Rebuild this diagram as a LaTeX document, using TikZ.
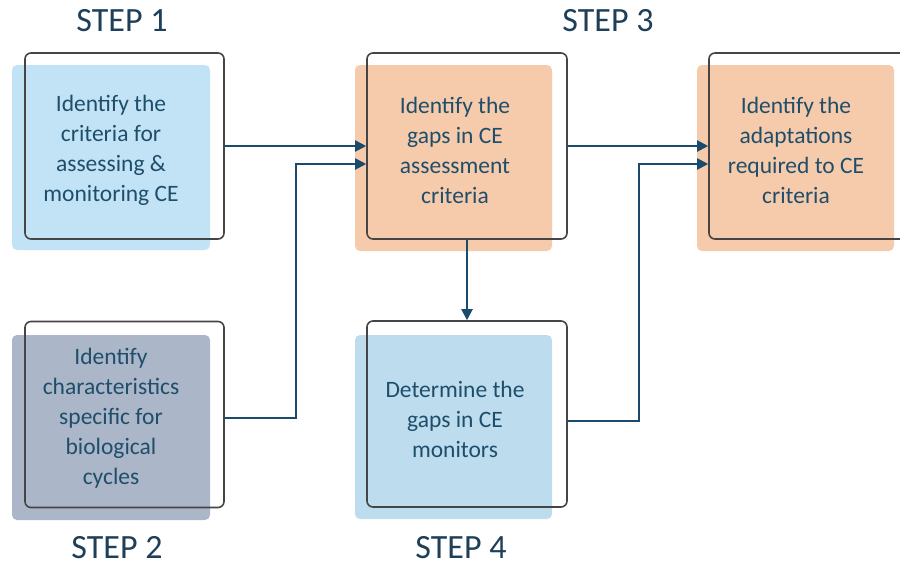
\documentclass[tikz,border=0pt]{standalone}
\usepackage{fontspec}
\setmainfont{Carlito}
\usetikzlibrary{arrows.meta}
\definecolor{txt}{HTML}{1F4E6B}
\definecolor{steptxt}{HTML}{1F3F58}
\definecolor{lnc}{HTML}{1B4B6C}
\definecolor{outl}{HTML}{454545}
\definecolor{cblue}{HTML}{C2E3F6}
\definecolor{corange}{HTML}{F6CBAB}
\definecolor{cgray}{HTML}{ABB6C8}
\definecolor{cblue2}{HTML}{BDDCEE}
\tikzset{
  fillbox/.style={draw=none, rounded corners=5pt, inner sep=0pt},
  outbox/.style={draw=outl, line width=1.6pt, rounded corners=6pt, inner sep=0pt, minimum width=199pt, minimum height=186pt},
  boxtext/.style={text=txt, align=center, font=\fontsize{23.5}{30}\selectfont, inner sep=0pt},
  steplabel/.style={text=steptxt, font=\fontsize{34}{38}\selectfont, inner sep=0pt, anchor=base},
  arr/.style={draw=lnc, line width=2pt, -{Triangle[length=11pt,width=11pt]}}
}
\begin{document}
\begin{tikzpicture}[x=1pt,y=-1pt]
\useasboundingbox (0,0) rectangle (900,566);
\clip (0,0) rectangle (900,566);
% fills
\node[fillbox, fill=cblue, minimum width=198pt, minimum height=185pt] (f1) at (111,157.5) {};
\node[fillbox, fill=corange, minimum width=197pt, minimum height=186pt] (f3) at (453.5,158) {};
\node[fillbox, fill=corange, minimum width=197pt, minimum height=186pt] (f5) at (795.5,158) {};
\node[fillbox, fill=cgray, minimum width=198pt, minimum height=185pt] (f2) at (111,427.5) {};
\node[fillbox, fill=cblue2, minimum width=197pt, minimum height=184pt] (f4) at (453.5,427) {};
% outlines
\node[outbox] (b1) at (124.5,146) {};
\node[outbox, minimum width=200pt] (b3) at (467,146) {};
\node[outbox, minimum width=220pt] (b5) at (819,146) {};
\node[outbox] (b2) at (124.5,414.5) {};
\node[outbox, minimum width=200pt] (b4) at (467,414) {};
% texts
\node[boxtext] (t1) at (111,150) {Identify the\\criteria for\\assessing \&\\monitoring CE};
\node[boxtext] (t3) at (455,150) {Identify the\\gaps in CE\\assessment\\criteria};
\node[boxtext] (t5) at (796,150) {Identify the\\adaptations\\required to CE\\criteria};
\node[boxtext] (t2) at (111,418) {Identify\\characteristics\\specific for\\biological\\cycles};
\node[boxtext] (t4) at (455,419) {Determine the\\gaps in CE\\monitors};
% step labels
\node[steplabel] (s1) at (122,31) {STEP 1};
\node[steplabel] (s3) at (608,31) {STEP 3};
\node[steplabel] (s2) at (117,558) {STEP 2};
\node[steplabel] (s4) at (461,558) {STEP 4};
% connectors
\draw[arr] (b1.east) -- (b1.east -| b3.west);
\draw[arr] ([yshift=-3.5pt]b2.east) -- ++(71,0) |- ([yshift=-18pt]b3.west);
\draw[arr] (b3.east) -- (b3.east -| b5.west);
\draw[arr] ([yshift=-7pt]b4.east) -- ++(71,0) |- ([yshift=-18pt]b5.west);
\draw[arr] (b3.south) -- (b4.north);
\end{tikzpicture}
\end{document}
